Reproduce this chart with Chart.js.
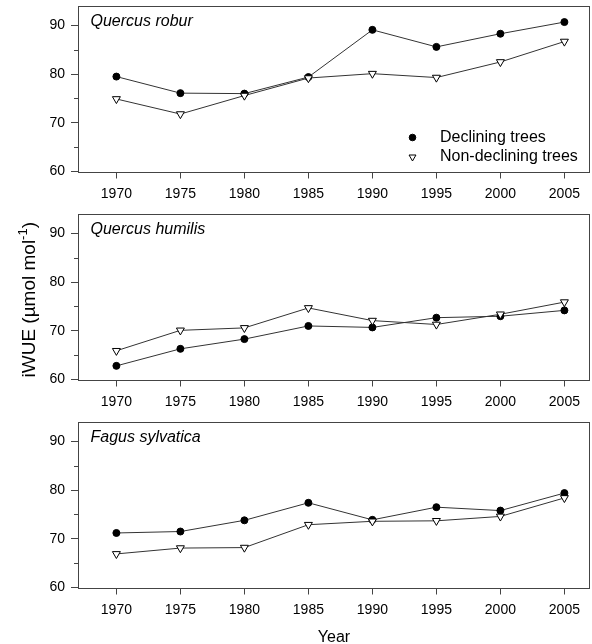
<!DOCTYPE html>
<html>
<head>
<meta charset="utf-8">
<title>iWUE of declining and non-declining trees</title>
<script src="https://cdn.jsdelivr.net/npm/chart.js@4/dist/chart.umd.min.js"></script>
<style>
  html, body { margin: 0; padding: 0; background: #fff; }
  #wrap { position: relative; width: 592px; height: 644px; overflow: hidden; }
  #wrap canvas { position: absolute; left: 0; }
</style>
</head>
<body>
<div id="wrap">
  <canvas id="robur" width="592" height="208" style="top:0px"></canvas>
  <canvas id="humilis" width="592" height="208" style="top:208px"></canvas>
  <canvas id="fagus" width="592" height="228" style="top:416px"></canvas>
</div>
<script>
// Sampling years (x axis)
const years = [1970, 1975, 1980, 1985, 1990, 1995, 2000, 2005];

// iWUE (µmol mol-1), one value per year
const roburDeclining      = [79.5, 76.1, 76.0, 79.4, 89.1, 85.6, 88.3, 90.7];
const roburNonDeclining   = [74.9, 71.8, 75.6, 79.2, 80.1, 79.3, 82.5, 86.7];
const humilisDeclining    = [62.8, 66.3, 68.3, 71.0, 70.7, 72.7, 73.0, 74.2];
const humilisNonDeclining = [65.9, 70.1, 70.6, 74.7, 72.1, 71.3, 73.4, 75.9];
const fagusDeclining      = [71.2, 71.5, 73.8, 77.4, 73.9, 76.5, 75.8, 79.4];
const fagusNonDeclining   = [66.9, 68.1, 68.2, 72.9, 73.6, 73.7, 74.6, 78.4];

// Axis ticks
const yMajorTicks = [60, 70, 80, 90];
const yMinorTicks = [65, 75, 85];

const seriesNames = ['Declining trees', 'Non-declining trees'];
// y title: main text, superscript exponent, closing text
const yTitleParts = ['iWUE (µmol mol', '-1', ')'];
const xTitle = 'Year';

const FONT = '"Liberation Sans", Arial, Helvetica, sans-serif';
const INK = '#333333';
const FRAME = '#444444';

const pairs = vals => years.map((x, i) => ({ x, y: vals[i] }));

// Box around the plotting area
const framePlugin = {
  id: 'frame',
  beforeDatasetsDraw(chart) {
    const { ctx, chartArea: a } = chart;
    ctx.save();
    ctx.strokeStyle = FRAME;
    ctx.lineWidth = 1;
    const l = Math.round(a.left) + 0.5, t = Math.round(a.top) + 0.5;
    const r = Math.round(a.right) - 0.5, b = Math.round(a.bottom) + 0.5;
    ctx.strokeRect(l, t, r - l, b - t);
    ctx.restore();
  }
};

// Short unlabelled ticks between the labelled ones on the y axis
const minorTickPlugin = {
  id: 'minorTicks',
  afterDraw(chart) {
    const { ctx, chartArea: a } = chart;
    const y = chart.scales.y;
    ctx.save();
    ctx.strokeStyle = FRAME;
    ctx.lineWidth = 1;
    ctx.beginPath();
    yMinorTicks.forEach(v => {
      const py = Math.round(y.getPixelForValue(v)) + 0.5;
      ctx.moveTo(Math.round(a.left) - 4, py);
      ctx.lineTo(Math.round(a.left), py);
    });
    ctx.stroke();
    ctx.restore();
  }
};

// Species name in the upper-left corner of each panel
const panelTitlePlugin = {
  id: 'panelTitle',
  afterDraw(chart, args, opts) {
    if (!opts.text) return;
    const { ctx, chartArea: a } = chart;
    ctx.save();
    ctx.font = 'italic 16px ' + FONT;
    ctx.fillStyle = '#000';
    ctx.textAlign = 'left';
    ctx.textBaseline = 'alphabetic';
    ctx.fillText(opts.text, a.left + 12.5, a.top + 19.5);
    ctx.restore();
  }
};

// Rotated y-axis title with a real superscript exponent
const yTitlePlugin = {
  id: 'yTitle',
  afterDraw(chart, args, opts) {
    if (!opts.display) return;
    const { ctx, chartArea: a } = chart;
    const main = '19px ' + FONT, sup = '13px ' + FONT;
    ctx.save();
    ctx.font = main;
    const w0 = ctx.measureText(yTitleParts[0]).width;
    const w2 = ctx.measureText(yTitleParts[2]).width;
    ctx.font = sup;
    const w1 = ctx.measureText(yTitleParts[1]).width;
    const total = w0 + w1 + w2;
    const cy = (a.top + a.bottom) / 2 + 3;
    ctx.translate(34.5, cy);
    ctx.rotate(-Math.PI / 2);
    ctx.fillStyle = '#000';
    ctx.textAlign = 'left';
    ctx.textBaseline = 'alphabetic';
    let x = -total / 2;
    ctx.font = main;
    ctx.fillText(yTitleParts[0], x, 0);
    x += w0;
    ctx.font = sup;
    ctx.fillText(yTitleParts[1], x, -7.5);
    x += w1;
    ctx.font = main;
    ctx.fillText(yTitleParts[2], x, 0);
    ctx.restore();
  }
};

// Series key, drawn inside the plotting area from the dataset styles
const keyPlugin = {
  id: 'seriesKey',
  afterDraw(chart, args, opts) {
    if (!opts.display) return;
    const { ctx, chartArea: a } = chart;
    const rows = [a.bottom - 34, a.bottom - 14.5];
    ctx.save();
    chart.data.datasets.forEach((ds, i) => {
      const y = rows[i];
      const mx = a.right - 177.5;
      ctx.fillStyle = ds.pointBackgroundColor;
      ctx.strokeStyle = ds.pointBorderColor;
      ctx.lineWidth = ds.pointBorderWidth;
      Chart.helpers.drawPoint(ctx, {
        pointStyle: ds.pointStyle,
        rotation: ds.pointRotation || 0,
        radius: ds.pointStyle === 'circle' ? 3.3 : 4,
        borderWidth: ds.pointBorderWidth
      }, mx, y);
      ctx.font = '16px ' + FONT;
      ctx.fillStyle = '#000';
      ctx.textAlign = 'left';
      ctx.textBaseline = 'middle';
      ctx.fillText(ds.label, a.right - 150, y);
    });
    ctx.restore();
  }
};

function makePanel(id, name, declining, nonDeclining, opt) {
  const tickFont = { family: FONT, size: 14 };
  return new Chart(document.getElementById(id), {
    type: 'line',
    data: {
      datasets: [
        {
          label: seriesNames[0],
          data: pairs(declining),
          order: 1,
          borderColor: INK,
          borderWidth: 1,
          tension: 0,
          pointStyle: 'circle',
          pointRadius: 3.5,
          pointBackgroundColor: '#000',
          pointBorderColor: '#000',
          pointBorderWidth: 1
        },
        {
          label: seriesNames[1],
          data: pairs(nonDeclining),
          order: 0,
          borderColor: INK,
          borderWidth: 1,
          tension: 0,
          pointStyle: 'triangle',
          pointRotation: 180,
          pointRadius: 4.6,
          pointBackgroundColor: '#fff',
          pointBorderColor: '#000',
          pointBorderWidth: 1
        }
      ]
    },
    options: {
      responsive: false,
      animation: false,
      devicePixelRatio: 1,
      events: [],
      layout: { autoPadding: false, padding: { top: 6, right: 2, left: 0, bottom: 0 } },
      plugins: {
        legend: { display: false },
        tooltip: { enabled: false },
        panelTitle: { text: name },
        seriesKey: { display: !!opt.key },
        yTitle: { display: !!opt.yTitle }
      },
      scales: {
        x: {
          type: 'linear',
          min: 1967,
          max: 2007,
          afterBuildTicks: s => { s.ticks = years.map(v => ({ value: v })); },
          afterFit: s => { s.height = opt.xHeight; s.paddingLeft = 0; s.paddingRight = 0; },
          ticks: {
            font: tickFont, color: '#000', padding: 7,
            autoSkip: false, maxRotation: 0,
            callback: v => String(v)
          },
          grid: { drawOnChartArea: false, drawTicks: true, tickLength: 7, tickColor: FRAME, tickWidth: 1 },
          border: { display: false },
          title: opt.xTitle
            ? { display: true, text: xTitle, color: '#000', font: { family: FONT, size: 16, lineHeight: 0.75 }, padding: { top: 0, bottom: 0 } }
            : { display: false }
        },
        y: {
          type: 'linear',
          min: 60,
          max: 94,
          afterBuildTicks: s => { s.ticks = yMajorTicks.map(v => ({ value: v })); },
          afterFit: s => { s.width = 78; s.paddingTop = 0; s.paddingBottom = 0; },
          ticks: { font: tickFont, color: '#000', padding: 6, autoSkip: false },
          grid: { drawOnChartArea: false, drawTicks: true, tickLength: 7, tickColor: FRAME, tickWidth: 1 },
          border: { display: false },
          title: { display: false }
        }
      }
    },
    plugins: [framePlugin, minorTickPlugin, panelTitlePlugin, yTitlePlugin, keyPlugin]
  });
}

makePanel('robur', 'Quercus robur', roburDeclining, roburNonDeclining, { xHeight: 36.5, key: true });
makePanel('humilis', 'Quercus humilis', humilisDeclining, humilisNonDeclining, { xHeight: 36.5, yTitle: true });
makePanel('fagus', 'Fagus sylvatica', fagusDeclining, fagusNonDeclining, { xHeight: 56.5, xTitle: true });
</script>
</body>
</html>
